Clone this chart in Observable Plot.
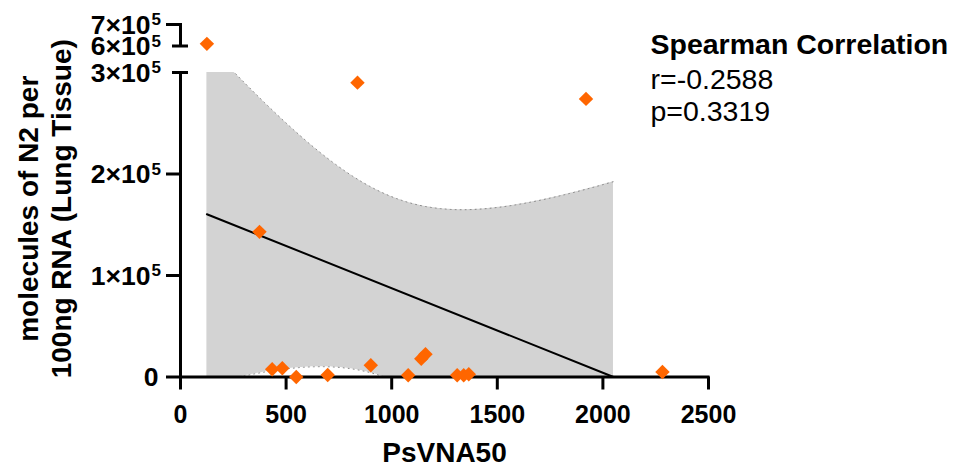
<!DOCTYPE html>
<html>
<head>
<meta charset="utf-8">
<script src="https://cdn.jsdelivr.net/npm/d3@7"></script>
<script src="https://cdn.jsdelivr.net/npm/@observablehq/plot@0.6"></script>
<style>html,body{margin:0;padding:0;background:#fff;}</style>
</head>
<body>
<div id="chart"></div>
<script>
// ---- data ----
const psvna50 = [125, 838, 1920, 374, 434, 482, 548, 697, 901, 1078, 1140, 1160, 1310, 1341, 1365, 2282];
const n2Molecules = [610000, 290000, 274000, 143000, 7600, 8600, 0, 2000, 11500, 1700, 18000, 22500, 1700, 1700, 2700, 4900];
const xTicks = [0, 500, 1000, 1500, 2000, 2500];
const yTicks = [0, 100000, 200000, 300000, 600000, 700000];
const yTickBase = ["0", "1×10", "2×10", "3×10", "6×10", "7×10"];
const yTickExp = ["", "5", "5", "5", "5", "5"];
const yPlainTicks = [0, 100000, 200000];
const yTopTicks = [700000];
const yBreakTicks = [300000, 600000];
const lowerSegment = [0, 300000];
const upperSegment = [600000, 700000];
const statTitle = "Spearman Correlation";
const statLines = ["r=-0.2588", "p=0.3319"];
const xLabel = "PsVNA50";
const yLabel = ["molecules of N2 per", "100ng RNA (Lung Tissue)"];
const tCrit = 2.1448; // Student t, 0.975, df = 14

// ---- linear regression with 95% confidence band ----
const pts = psvna50.map((x, i) => ({x, y: n2Molecules[i]}));
const n = pts.length;
const mx = d3.mean(psvna50), my = d3.mean(n2Molecules);
const sxx = d3.sum(psvna50, x => (x - mx) ** 2);
const sxy = d3.sum(pts, p => (p.x - mx) * (p.y - my));
const slope = sxy / sxx, intercept = my - slope * mx;
const sse = d3.sum(pts, p => (p.y - (intercept + slope * p.x)) ** 2);
const s = Math.sqrt(sse / (n - 2));
const xStart = d3.min(psvna50);
const xEnd = Math.min(d3.max(psvna50), -intercept / slope);
const steps = 240;
const band = d3.range(steps + 1).map(k => {
  const x = xStart + (xEnd - xStart) * k / steps;
  const fit = intercept + slope * x;
  const h = tCrit * s * Math.sqrt(1 / n + (x - mx) ** 2 / sxx);
  const lo = fit - h, hi = fit + h;
  return {
    x, fit,
    loC: Math.max(lowerSegment[0], lo),
    hiC: Math.min(lowerSegment[1], hi),
    loEdge: lo >= lowerSegment[0] ? lo : NaN,
    hiEdge: hi <= lowerSegment[1] ? hi : NaN
  };
});
const fitLine = [band[0], band[band.length - 1]];

const yRows = yTicks.map((v, i) => ({v, base: yTickBase[i], exp: yTickExp[i]}));

const font = '"Liberation Sans", Arial, Helvetica, sans-serif';
const chart = Plot.plot({
  width: 956,
  height: 467,
  marginLeft: 180,
  marginRight: 248,
  marginTop: 24,
  marginBottom: 90.5,
  style: {fontFamily: font, background: "#fff", color: "#000"},
  x: {domain: [0, 2500], range: [180, 708], axis: null},
  y: {type: "linear", domain: [0, 300000, 600000, 700000], range: [376.5, 72, 45.5, 24], axis: null},
  marks: [
    Plot.areaY(band, {x: "x", y1: "loC", y2: "hiC", fill: "#d3d3d3"}),
    Plot.lineY(band, {x: "x", y: "hiEdge", stroke: "#8a8a8a", strokeWidth: 1, strokeDasharray: "1,4"}),
    Plot.lineY(band, {x: "x", y: "loEdge", stroke: "#8a8a8a", strokeWidth: 1, strokeDasharray: "1,4"}),
    // axes
    Plot.ruleX([0], {x: d => d, y1: lowerSegment[0], y2: lowerSegment[1], stroke: "#000", strokeWidth: 3}),
    Plot.ruleX([0], {x: d => d, y1: upperSegment[0], y2: upperSegment[1], stroke: "#000", strokeWidth: 3}),
    Plot.ruleY([0], {y: d => d, x1: 0, x2: 2500, insetRight: -1.5, stroke: "#000", strokeWidth: 3}),
    Plot.ruleX(xTicks, {x: d => d, y1: 0, y2: 0, insetBottom: -13, stroke: "#000", strokeWidth: 3}),
    Plot.ruleY(yPlainTicks, {y: d => d, x1: 0, x2: 0, insetLeft: -14, stroke: "#000", strokeWidth: 3}),
    Plot.ruleY(yTopTicks, {y: d => d, x1: 0, x2: 0, insetLeft: -14, insetRight: -2, stroke: "#000", strokeWidth: 3}),
    Plot.ruleY(yBreakTicks, {y: d => d, x1: 0, x2: 0, insetLeft: -8, insetRight: -8, stroke: "#000", strokeWidth: 3}),
    // tick labels
    Plot.text(xTicks, {x: d => d, y: 0, text: d => String(d), dy: 28, lineAnchor: "top", fontSize: 25, fontWeight: "bold", fill: "#000"}),
    Plot.text(yRows.filter(d => d.exp), {x: 0, y: "v", text: "base", textAnchor: "end", dx: -30, dy: 1, fontSize: 26.5, fontWeight: "bold", fill: "#000"}),
    Plot.text(yRows.filter(d => !d.exp), {x: 0, y: "v", text: "base", textAnchor: "end", dx: -22, dy: 1, fontSize: 26.5, fontWeight: "bold", fill: "#000"}),
    Plot.text(yRows.filter(d => d.exp), {x: 0, y: "v", text: "exp", textAnchor: "start", dx: -29, dy: -4.5, fontSize: 17, fontWeight: "bold", fill: "#000"}),
    // titles
    Plot.text([xLabel], {frameAnchor: "bottom", text: d => d, lineAnchor: "top", dy: 65.5, fontSize: 28, fontWeight: "bold", fill: "#000"}),
    Plot.text([yLabel.join("\n")], {frameAnchor: "left", text: d => d, textAnchor: "middle", lineAnchor: "middle", rotate: -90, dx: -137, dy: 8, lineHeight: 1.18, fontSize: 28, fontWeight: "bold", fill: "#000"}),
    Plot.text([statTitle], {frameAnchor: "top-right", text: d => d, textAnchor: "start", lineAnchor: "top", dx: -58, dy: 9, fontSize: 28.5, fontWeight: "bold", fill: "#000"}),
    Plot.text([statLines.join("\n")], {frameAnchor: "top-right", text: d => d, textAnchor: "start", lineAnchor: "top", dx: -58, dy: 42, lineHeight: 1.12, fontSize: 28.5, fill: "#000"}),
    // regression line and points
    Plot.line(fitLine, {x: "x", y: "fit", stroke: "#000", strokeWidth: 2}),
    Plot.dot(pts, {x: "x", y: "y", symbol: "diamond2", r: 6.5, fill: "#ff6600", stroke: "none"})
  ]
});
document.getElementById("chart").append(chart);
</script>
</body>
</html>
